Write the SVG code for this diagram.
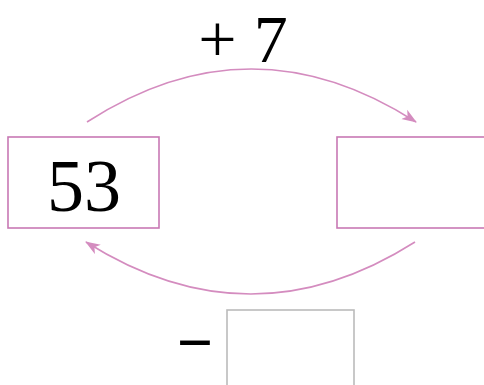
<svg xmlns="http://www.w3.org/2000/svg" width="484" height="385" viewBox="0 0 484 385">
<style>
.box{fill:none;stroke:#c878b4;stroke-width:1.6}
.gbox{fill:none;stroke:#bbbbbb;stroke-width:1.6}
.conn{fill:none;stroke:#d48cbf;stroke-width:1.6}
.t{font-family:"Liberation Serif","DejaVu Serif",serif;fill:#000}
</style>
<defs>
<marker id="ah" markerWidth="16" markerHeight="12" refX="14" refY="6" orient="auto" markerUnits="userSpaceOnUse">
<path d="M0,0.5 L15,6 L0,11.5 L4,6 Z" fill="#d48cbf"/>
</marker>
</defs>
<rect width="484" height="385" fill="#fff"/>
<g id="connectors">
<path class="conn" d="M87,122 Q251,16 416,122" marker-end="url(#ah)"/>
<path class="conn" d="M415,242 Q251,346 86,242" marker-end="url(#ah)"/>
</g>
<g id="label-plus">
<text class="t" x="243" y="62" font-size="68" text-anchor="middle">+ 7</text>
</g>
<g id="node-53">
<rect class="box" x="8" y="137" width="151" height="91"/>
<text class="t" x="84" y="211" font-size="74" text-anchor="middle">53</text>
</g>
<g id="node-empty">
<rect class="box" x="337" y="137" width="160" height="91"/>
</g>
<g id="label-minus">
<text class="t" x="195" y="364" font-size="64" font-weight="bold" text-anchor="middle">−</text>
<rect class="gbox" x="227" y="310" width="127" height="90"/>
</g>
</svg>
